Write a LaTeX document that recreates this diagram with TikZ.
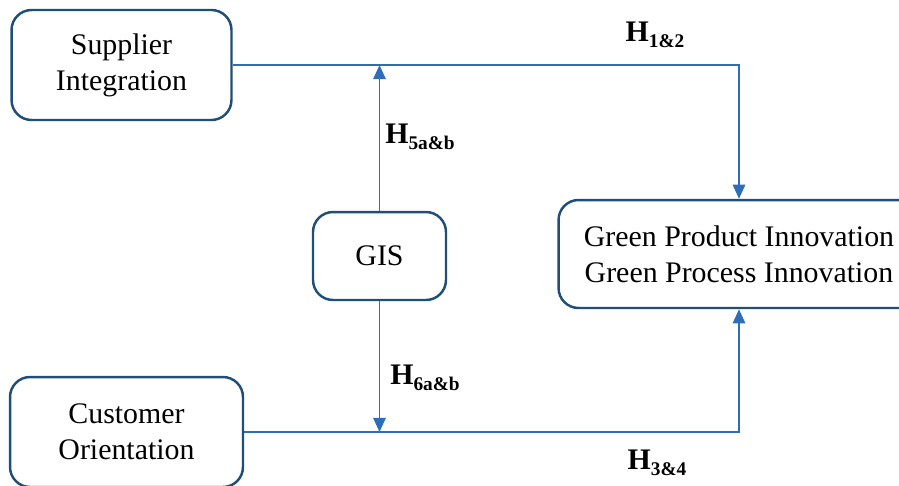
\documentclass[tikz,border=0pt]{standalone}
\usepackage{fontspec}
\setmainfont{Liberation Serif}
\usetikzlibrary{arrows.meta, positioning}
\definecolor{boxblue}{HTML}{1F4E79}
\definecolor{linkblue}{HTML}{2E6DB8}
\newcommand{\hyplabel}[1]{\textbf{H\raisebox{-0.45ex}{\fontsize{11}{11}\selectfont #1}}}

\begin{document}
\begin{tikzpicture}[x=0.02cm,y=-0.02cm,
    construct/.style={draw=boxblue, line width=1.4pt, rounded corners=0.4cm,
      align=center, inner sep=0pt, font=\fontsize{17}{20.5}\selectfont},
    link/.style={draw=linkblue, line width=1.1pt, -{Triangle[length=8pt,width=7pt]}},
    hyp/.style={font=\fontsize{17}{20}\selectfont}]
        \clip (0,0) rectangle (899,485);
        \useasboundingbox (0,0) rectangle (899,485);
        \node[construct, minimum width=4.4cm, minimum height=2.2cm] (sup) at (121.5,65) {Supplier\\Integration};
        \node[construct, minimum width=2.66cm, minimum height=1.76cm] (gis) at (379.5,256) {GIS};
        \node[construct, minimum width=7.22cm, minimum height=2.16cm] (green) at (739,254) {Green Product Innovation\\Green Process Innovation};
        \node[construct, minimum width=4.66cm, minimum height=2.2cm] (cust) at (126.5,432) {Customer\\Orientation};
        \draw[link] (sup.east) -| (green.north);
        \draw[link] (cust.east) -| (green.south);
        \draw[link] (gis.north) -- (gis.north |- sup.east);
        \draw[link] (gis.south) -- (gis.south |- cust.east);
        \node[hyp] (h12) at (655,35) {\hyplabel{1\&2}};
        \node[hyp] (h5) at (420,137) {\hyplabel{5a\&b}};
        \node[hyp] (h6) at (425,378) {\hyplabel{6a\&b}};
        \node[hyp] (h34) at (657,463) {\hyplabel{3\&4}};
      \end{tikzpicture}
\end{document}
